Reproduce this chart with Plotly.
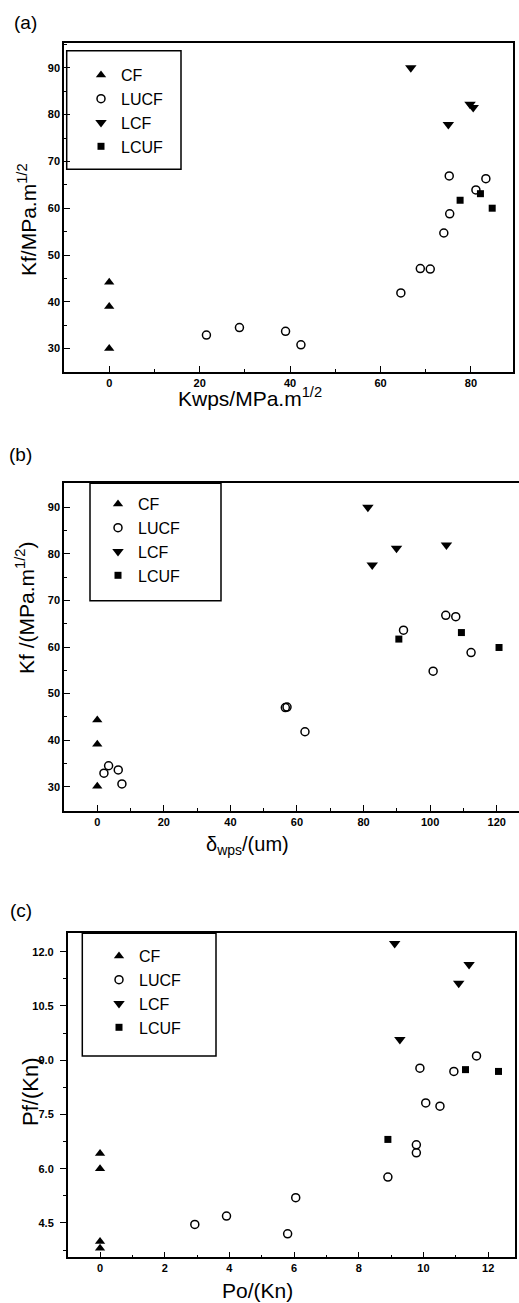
import plotly.graph_objects as go

W, H = 519, 1303
FONT = "Liberation Sans, Arial, sans-serif"

series_names = ["CF", "LUCF", "LCF", "LCUF"]

# ---------------- Panel (a) ----------------
a_cf_x = [0, 0, 0]
a_cf_y = [44.2, 39.0, 30.0]
a_lucf_x = [21.5, 28.8, 39.0, 42.4, 64.5, 68.8, 71.0, 74.0, 75.3, 81.1, 83.3, 75.2]
a_lucf_y = [32.9, 34.5, 33.7, 30.8, 41.9, 47.1, 47.0, 54.7, 58.8, 63.9, 66.3, 66.9]
a_lcf_x = [66.7, 75.0, 79.8, 80.5]
a_lcf_y = [90.0, 77.9, 82.2, 81.5]
a_lcuf_x = [77.6, 82.1, 84.7]
a_lcuf_y = [61.7, 63.1, 60.0]

# ---------------- Panel (b) ----------------
b_cf_x = [0, 0, 0]
b_cf_y = [44.3, 39.1, 30.1]
b_lucf_x = [2.0, 3.4, 6.3, 7.4, 56.5, 57.0, 62.4, 92.0, 100.9, 104.7, 107.7, 112.3]
b_lucf_y = [32.9, 34.5, 33.6, 30.6, 47.0, 47.1, 41.8, 63.6, 54.8, 66.8, 66.5, 58.8]
b_lcf_x = [81.3, 82.6, 89.9, 104.9]
b_lcf_y = [90.0, 77.6, 81.2, 81.9]
b_lcuf_x = [90.6, 109.4, 120.7]
b_lcuf_y = [61.7, 63.1, 59.9]

# ---------------- Panel (c) ----------------
c_cf_x = [0, 0, 0, 0]
c_cf_y = [6.42, 6.0, 3.99, 3.80]
c_lucf_x = [2.93, 3.91, 5.80, 6.05, 8.90, 9.78, 9.78, 9.89, 10.07, 10.51, 10.94, 11.64]
c_lucf_y = [4.46, 4.69, 4.20, 5.20, 5.77, 6.66, 6.44, 8.78, 7.82, 7.73, 8.69, 9.12]
c_lcf_x = [9.11, 11.41, 11.09, 9.27]
c_lcf_y = [12.23, 11.65, 11.13, 9.57]
c_lcuf_x = [8.90, 11.30, 12.32]
c_lcuf_y = [6.81, 8.74, 8.69]

a_xticks = [0, 20, 40, 60, 80]
a_yticks = [30, 40, 50, 60, 70, 80, 90]
b_xticks = [0, 20, 40, 60, 80, 100, 120]
b_yticks = [30, 40, 50, 60, 70, 80, 90]
c_xticks = [0, 2, 4, 6, 8, 10, 12]
c_yticks = [4.5, 6.0, 7.5, 9.0, 10.5, 12.0]
c_yticklabels = ["4.5", "6.0", "7.5", "9.0", "10.5", "12.0"]

markers = {
    "CF": dict(symbol="triangle-up", size=9, color="black"),
    "LUCF": dict(symbol="circle-open", size=8, color="black", line=dict(width=1.5, color="black")),
    "LCF": dict(symbol="triangle-down", size=10, color="black"),
    "LCUF": dict(symbol="square", size=7, color="black"),
}

fig = go.Figure()

panels = [
    ("x", "y", "legend", [(a_cf_x, a_cf_y), (a_lucf_x, a_lucf_y), (a_lcf_x, a_lcf_y), (a_lcuf_x, a_lcuf_y)]),
    ("x2", "y2", "legend2", [(b_cf_x, b_cf_y), (b_lucf_x, b_lucf_y), (b_lcf_x, b_lcf_y), (b_lcuf_x, b_lcuf_y)]),
    ("x3", "y3", "legend3", [(c_cf_x, c_cf_y), (c_lucf_x, c_lucf_y), (c_lcf_x, c_lcf_y), (c_lcuf_x, c_lcuf_y)]),
]
for xa, ya, lg, data in panels:
    for name, (xs, ys) in zip(series_names, data):
        fig.add_trace(go.Scatter(x=xs, y=ys, mode="markers", name=name, marker=markers[name],
                                 xaxis=xa, yaxis=ya, legend=lg, showlegend=True, cliponaxis=False))


def dom_x(l, r):
    return [l / W, r / W]


def dom_y(t, b):
    return [1 - b / H, 1 - t / H]


tickfont = dict(family=FONT, size=11, color="black", weight="bold")
common = dict(showline=True, linecolor="black", linewidth=1.5, showgrid=False, zeroline=False,
              tickwidth=1.2, tickcolor="black", tickfont=tickfont, automargin=False)
inside = dict(ticks="inside", ticklen=6)

fig.update_layout(
    width=W, height=H, margin=dict(l=0, r=0, t=0, b=0, autoexpand=False),
    paper_bgcolor="white", plot_bgcolor="white",
    font=dict(family=FONT, color="black"),
    xaxis=dict(domain=dom_x(64, 513), anchor="y", range=[-10, 89.3], tickvals=a_xticks, mirror=True,
               minor=dict(dtick=10, tick0=0, ticks="inside", ticklen=3, tickcolor="black"), **inside, **common),
    yaxis=dict(domain=dom_y(43, 372), anchor="x", range=[25, 95.3], tickvals=a_yticks, mirror=True,
               minor=dict(dtick=5, tick0=0, ticks="inside", ticklen=3, tickcolor="black"), **inside, **common),
    xaxis2=dict(domain=dom_x(64, 519), anchor="y2", range=[-10, 126.7], tickvals=b_xticks, mirror=True,
                minor=dict(dtick=10, tick0=0, ticks="inside", ticklen=3, tickcolor="black"), **inside, **common),
    yaxis2=dict(domain=dom_y(483.3, 810.7), anchor="x2", range=[24.85, 95.15], tickvals=b_yticks, mirror=False,
                minor=dict(dtick=5, tick0=0, ticks="inside", ticklen=3, tickcolor="black"), **inside, **common),
    xaxis3=dict(domain=dom_x(67.7, 515), anchor="y3", range=[-1.0, 12.83], tickvals=c_xticks, mirror=True,
                minor=dict(dtick=1, tick0=0, ticks="inside", ticklen=3, tickcolor="black"), **inside, **common),
    yaxis3=dict(domain=dom_y(933.3, 1257.3), anchor="x3", range=[3.55, 12.51], tickvals=c_yticks,
                ticktext=c_yticklabels, mirror=True, ticks="outside", ticklen=6, ticklabelstandoff=4,
                minor=dict(dtick=0.75, tick0=0, ticks="outside", ticklen=3, tickcolor="black"), **common),
)

legend_common = dict(bgcolor="rgba(0,0,0,0)", borderwidth=0, font=dict(family=FONT, size=16, color="black"),
                     xanchor="left", yanchor="top", itemsizing="trace", tracegroupgap=0)
fig.update_layout(
    legend=dict(x=81 / W, y=1 - 58 / H, **legend_common),
    legend2=dict(x=98 / W, y=1 - 487 / H, **legend_common),
    legend3=dict(x=99 / W, y=1 - 939 / H, **legend_common),
)

# legend frames
for (l, t, r, b) in [(66.7, 50.7, 181, 169.3), (90, 483.3, 221, 600.7), (82.3, 933.3, 216, 1056)]:
    fig.add_shape(type="rect", xref="paper", yref="paper", x0=l / W, x1=r / W, y0=1 - b / H, y1=1 - t / H,
                  line=dict(color="black", width=1.5), fillcolor="rgba(0,0,0,0)", layer="above")

ann = []


def add_text(text, x, y, size, angle=0):
    ann.append(dict(text=text, x=x / W, y=1 - y / H, xref="paper", yref="paper", showarrow=False,
                    xanchor="center", yanchor="middle", textangle=angle,
                    font=dict(family=FONT, size=size, color="black")))


add_text("(a)", 25, 22, 19)
add_text("(b)", 20, 454, 19)
add_text("(c)", 21, 910, 19)
add_text("Kwps/MPa.m<sup>1/2</sup>", 250, 397, 21)
add_text("Kf/MPa.m<sup>1/2</sup>", 27, 220, 21, -90)
add_text("δ<sub>wps</sub>/(um)", 247, 845, 20)
add_text("Kf /(MPa.m<sup>1/2</sup>)", 25, 608, 21, -90)
add_text("Po/(Kn)", 257, 1290, 21)
add_text("Pf/(Kn)", 30, 1092, 22, -90)
fig.update_layout(annotations=ann)

fig.write_html("out.html", config={"displayModeBar": False},
               post_script="document.body.style.margin='0px';document.body.style.padding='0px';")
